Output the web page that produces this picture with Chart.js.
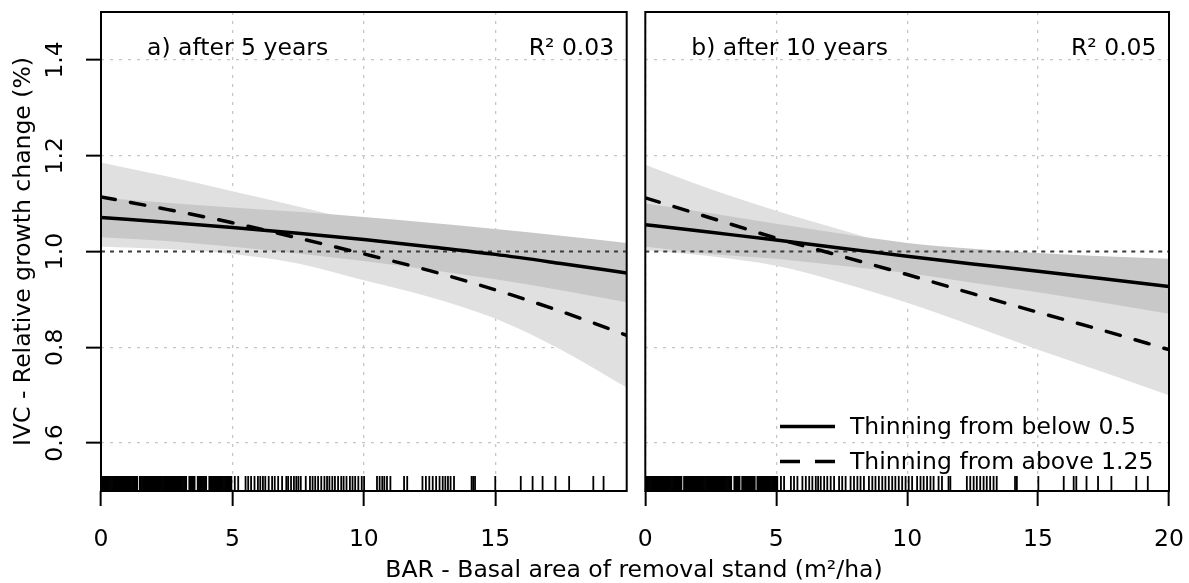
<!DOCTYPE html>
<html><head><meta charset="utf-8">
<script src="https://cdn.jsdelivr.net/npm/chart.js@4.4.1/dist/chart.umd.min.js"></script>
<style>
html,body{margin:0;padding:0;background:#fff;}
#wrap{position:relative;width:1189px;height:583px;overflow:hidden;font-family:"DejaVu Sans",sans-serif;background:#fff;}
#pa{position:absolute;left:0;top:0;width:636px;height:583px;}
#pb{position:absolute;left:636px;top:0;width:553px;height:583px;}
#xt{position:absolute;top:558px;left:634px;transform:translateX(-50%);font-size:23.5px;line-height:23.5px;white-space:nowrap;color:#000;}
</style></head><body>
<div id="wrap">
<div id="pa"><canvas id="ca" width="636" height="583"></canvas></div>
<div id="pb"><canvas id="cb" width="553" height="583"></canvas></div>
<div id="xt">BAR - Basal area of removal stand (m²/ha)</div>
</div>
<script>
// ---------- data ----------
const xs = [0, 2.5, 5, 7.5, 10, 12.5, 15, 17.5, 20];

// panel a (after 5 years)
const belowA   = [1.071, 1.061, 1.050, 1.038, 1.025, 1.010, 0.994, 0.975, 0.955];
const belowHiA = [1.112, 1.102, 1.092, 1.083, 1.072, 1.060, 1.047, 1.033, 1.018];
const belowLoA = [1.030, 1.022, 1.010, 0.996, 0.980, 0.962, 0.942, 0.919, 0.894];
const aboveA   = [1.114, 1.088, 1.060, 1.028, 0.995, 0.960, 0.920, 0.875, 0.825];
const aboveHiA = [1.186, 1.157, 1.126, 1.094, 1.060, 1.025, 0.990, 0.955, 0.920];
const aboveLoA = [1.010, 1.005, 0.995, 0.975, 0.940, 0.905, 0.860, 0.795, 0.716];

// panel b (after 10 years)
const belowB   = [1.056, 1.040, 1.024, 1.007, 0.990, 0.974, 0.959, 0.943, 0.927];
const belowHiB = [1.100, 1.080, 1.058, 1.037, 1.018, 1.006, 0.997, 0.990, 0.985];
const belowLoB = [1.010, 0.995, 0.985, 0.970, 0.955, 0.935, 0.915, 0.893, 0.870];
const aboveB   = [1.112, 1.070, 1.028, 0.990, 0.952, 0.912, 0.873, 0.835, 0.795];
const aboveHiB = [1.181, 1.130, 1.085, 1.045, 1.005, 0.970, 0.935, 0.905, 0.875];
const aboveLoB = [1.003, 0.990, 0.970, 0.935, 0.893, 0.845, 0.795, 0.748, 0.700];

// rug (observed BAR values)
const rugA = [0.02,0.06,0.1,0.14,0.18,0.22,0.26,0.3,0.34,0.38,0.42,0.46,0.5,0.54,0.58,0.62,0.66,0.7,0.74,0.78,0.82,0.86,0.9,0.94,0.98,1.02,1.06,1.1,1.14,1.18,1.22,1.26,1.3,1.34,1.38,1.48,1.52,1.56,1.6,1.64,1.68,1.72,1.76,1.8,1.84,1.88,1.92,1.96,2.0,2.04,2.08,2.12,2.16,2.2,2.24,2.28,2.32,2.36,2.4,2.44,2.48,2.52,2.56,2.6,2.64,2.68,2.72,2.76,2.8,2.84,2.88,2.92,2.96,3.0,3.04,3.08,3.12,3.16,3.2,3.24,3.36,3.4,3.44,3.48,3.52,3.56,3.68,3.72,3.76,3.8,3.84,3.88,3.92,3.96,4.0,4.12,4.16,4.2,4.24,4.28,4.32,4.36,4.4,4.44,4.48,4.52,4.56,4.6,4.64,4.68,4.72,4.76,4.8,4.84,4.88,4.92,4.96,
  5.09,5.22,5.50,5.60,5.71,5.84,5.97,6.06,6.16,6.25,6.38,6.51,6.61,6.74,6.89,7.05,7.12,7.23,7.34,7.43,7.51,7.60,7.79,7.95,8.05,8.15,8.26,8.38,8.50,8.60,8.69,8.80,8.90,9.02,9.14,9.23,9.34,9.47,9.57,9.67,9.79,9.92,10.01,10.50,10.60,10.70,10.78,10.88,11.01,11.53,11.65,12.23,12.36,12.49,12.62,12.75,12.88,13.00,13.10,13.20,13.30,13.43,14.10,14.16,14.23,15.00,15.97,16.42,16.80,17.29,17.81,18.73,19.12];
const rugB = [0.02,0.06,0.1,0.14,0.18,0.22,0.26,0.3,0.34,0.38,0.42,0.46,0.5,0.54,0.58,0.62,0.66,0.7,0.74,0.78,0.82,0.86,0.9,0.94,0.98,1.02,1.06,1.1,1.14,1.18,1.22,1.26,1.3,1.34,1.38,1.48,1.52,1.56,1.6,1.64,1.68,1.72,1.76,1.8,1.84,1.88,1.92,1.96,2.0,2.04,2.08,2.12,2.16,2.2,2.24,2.28,2.32,2.36,2.4,2.44,2.48,2.52,2.56,2.6,2.64,2.68,2.72,2.76,2.8,2.84,2.88,2.92,2.96,3.0,3.04,3.08,3.12,3.16,3.2,3.24,3.28,3.4,3.44,3.48,3.52,3.56,3.6,3.7,3.74,3.78,3.82,3.86,3.9,3.94,3.98,4.02,4.06,4.1,4.14,4.18,4.28,4.32,4.36,4.4,4.44,4.48,4.52,4.56,4.6,4.64,4.68,4.72,4.76,4.8,4.84,4.88,4.92,4.96,5.0,5.04,
  5.18,5.30,5.56,5.68,5.81,6.00,6.13,6.26,6.38,6.51,6.60,6.70,6.83,6.95,7.08,7.21,7.40,7.52,7.65,7.84,7.97,8.10,8.22,8.35,8.54,8.67,8.79,8.92,9.05,9.17,9.30,9.43,9.55,9.68,9.81,9.94,10.06,10.19,10.38,10.51,10.63,10.76,10.89,11.01,11.20,11.33,11.58,11.65,12.28,12.41,12.54,12.66,12.79,12.92,13.04,13.17,13.30,13.42,14.12,14.19,15.01,15.98,16.36,16.46,16.85,17.29,17.80,18.75,19.19];

const yTicks  = [0.6, 0.8, 1.0, 1.2, 1.4];
const xTicksA = [0, 5, 10, 15];
const xTicksB = [0, 5, 10, 15, 20];
const refValue = 1.0;

const panelTitles = ['a) after 5 years', 'b) after 10 years'];
const r2Labels    = ['R² 0.03', 'R² 0.05'];
const legendLabels = ['Thinning from below 0.5', 'Thinning from above 1.25'];
const yTitle = 'IVC - Relative growth change (%)';

// ---------- style ----------
const FONT = '"DejaVu Sans", sans-serif';
const FS = 23.5;
const LIGHT = '#e0e0e0';
const DARK = '#c8c8c8';
const GRID = '#c6c6c6';
const X_MIN = 0, X_MAX = 20, Y_MIN = 0.5, Y_MAX = 1.5;
const RUG_Y = 0.5157;

function pts(xv, yv) { return xv.map((x, i) => ({x: x, y: yv[i]})); }

function makeDatasets(p) {
  const band = {borderWidth: 0, borderColor: 'transparent', pointRadius: 0, cubicInterpolationMode: 'monotone'};
  return [
    Object.assign({data: pts(xs, p.aHi), fill: '+1', backgroundColor: LIGHT, order: 10}, band),
    Object.assign({data: pts(xs, p.aLo), fill: false, order: 10}, band),
    Object.assign({data: pts(xs, p.bHi), fill: '+1', backgroundColor: DARK, order: 9}, band),
    Object.assign({data: pts(xs, p.bLo), fill: false, order: 9}, band),
    {data: [{x: X_MIN, y: refValue}, {x: X_MAX, y: refValue}], borderColor: '#3c3c3c', borderWidth: 2, borderDash: [4, 5], pointRadius: 0, fill: false, order: 8},
    {data: pts(xs, p.a), borderColor: '#000', borderWidth: 3.5, borderDash: [14.5, 15.5], borderCapStyle: 'round', pointRadius: 0, fill: false, cubicInterpolationMode: 'monotone', order: 7},
    {data: pts(xs, p.b), borderColor: '#000', borderWidth: 3.5, borderCapStyle: 'round', pointRadius: 0, fill: false, cubicInterpolationMode: 'monotone', order: 6},
    {data: p.rug.map(x => ({x: x, y: RUG_Y})), showLine: false, pointStyle: 'line', pointRotation: 90, pointRadius: 7.5,
     pointBorderWidth: 1.8, pointBorderColor: '#000', pointBackgroundColor: '#000', borderColor: '#000', fill: false, order: 5}
  ];
}

function panelPlugin(idx, withLegend) {
  return {
    id: 'panel' + idx,
    afterDatasetsDraw(chart) {
      const ctx = chart.ctx, a = chart.chartArea;
      ctx.save();
      ctx.setLineDash([]);
      ctx.strokeStyle = '#000';
      ctx.lineWidth = 2;
      ctx.strokeRect(a.left, a.top, a.right - a.left, a.bottom - a.top);
      ctx.fillStyle = '#000';
      ctx.font = FS + 'px ' + FONT;
      ctx.textBaseline = 'alphabetic';
      ctx.textAlign = 'left';
      ctx.fillText(panelTitles[idx], a.left + 46, a.top + 42.5);
      ctx.textAlign = 'right';
      ctx.fillText(r2Labels[idx], a.right - 12.5, a.top + 42.5);
      if (withLegend) {
        const rows = [a.bottom - 57, a.bottom - 22];
        const dashes = [[], [20, 15]];
        for (let i = 0; i < 2; i++) {
          ctx.beginPath();
          ctx.setLineDash(dashes[i]);
          ctx.lineWidth = 3.5;
          ctx.lineCap = 'butt';
          ctx.moveTo(a.right - 389, rows[i] - 7.5);
          ctx.lineTo(a.right - 334, rows[i] - 7.5);
          ctx.stroke();
          ctx.setLineDash([]);
          ctx.textAlign = 'left';
          ctx.fillText(legendLabels[i], a.right - 319, rows[i]);
        }
      }
      ctx.restore();
    }
  };
}

function xScale(ticks) {
  return {
    type: 'linear', min: X_MIN, max: X_MAX,
    afterBuildTicks: s => { s.ticks = ticks.map(v => ({value: v})); },
    afterFit: s => { s.height = 92; s.paddingLeft = 0; s.paddingRight = 0; },
    ticks: {autoSkip: false, maxRotation: 0, minRotation: 0, padding: 20, color: '#000', font: {family: FONT, size: FS}},
    grid: {color: GRID, lineWidth: 1.3, drawTicks: true, tickLength: 15, tickColor: '#000', tickWidth: 2},
    border: {display: false, dash: [3, 6]}
  };
}

function yScale(showLabels) {
  return {
    type: 'linear', min: Y_MIN, max: Y_MAX,
    afterBuildTicks: sc => { sc.ticks = yTicks.map(v => ({value: v})); },
    afterFit: sc => { sc.width = showLabels ? 101 : 0; sc.paddingTop = 0; sc.paddingBottom = 0; },
    grid: {color: GRID, lineWidth: 1.3, drawTicks: showLabels, tickLength: 15, tickColor: '#000', tickWidth: 2},
    border: {display: false, dash: [3, 6]},
    ticks: {display: showLabels, padding: 11.5, minRotation: 90, maxRotation: 90, crossAlign: 'center', color: '#000',
            font: {family: FONT, size: FS}, callback: v => Number(v).toFixed(1)},
    title: {display: showLabels, text: yTitle, color: '#000', font: {family: FONT, size: FS}, padding: {top: 10, bottom: 0}}
  };
}

function makeChart(id, p, idx, xticks, padding, showY, legend) {
  return new Chart(document.getElementById(id), {
    type: 'line',
    data: {datasets: makeDatasets(p)},
    options: {
      responsive: false, animation: false, events: [],
      layout: {padding: padding},
      plugins: {legend: {display: false}, tooltip: {enabled: false}},
      scales: {x: xScale(xticks), y: yScale(showY)}
    },
    plugins: [panelPlugin(idx, legend)]
  });
}

makeChart('ca', {a: aboveA, aHi: aboveHiA, aLo: aboveLoA, b: belowA, bHi: belowHiA, bLo: belowLoA, rug: rugA},
          0, xTicksA, {left: 0, right: 9, top: 12, bottom: 0}, true, false);
makeChart('cb', {a: aboveB, aHi: aboveHiB, aLo: aboveLoB, b: belowB, bHi: belowHiB, bLo: belowLoB, rug: rugB},
          1, xTicksB, {left: 8, right: 20, top: 12, bottom: 0}, false, true);
</script>
</body></html>
